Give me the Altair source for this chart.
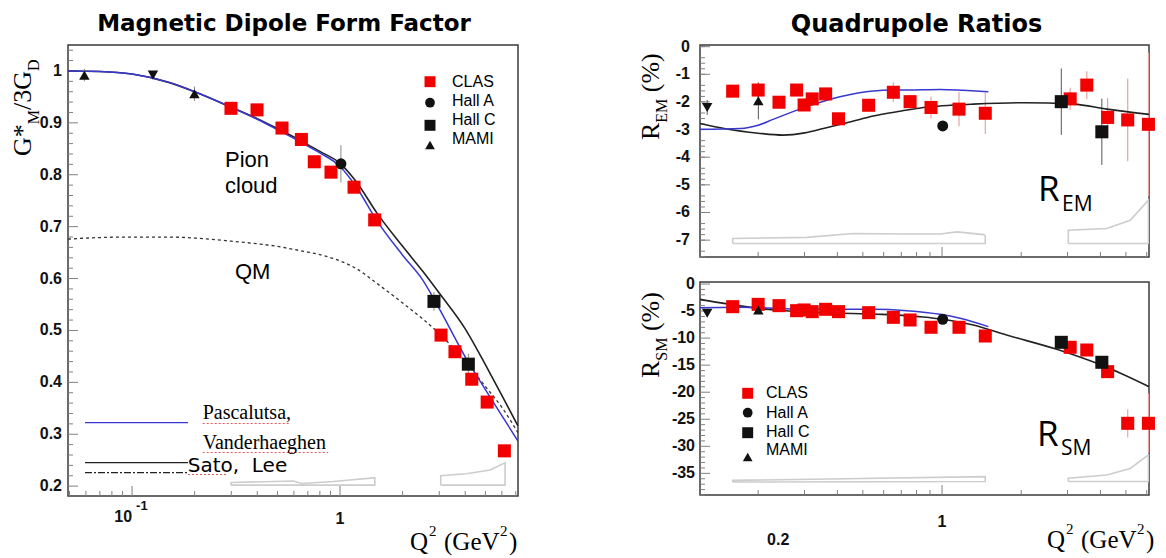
import altair as alt
import pandas as pd
import numpy as np

SANS = "Liberation Sans"
SERIF = "Liberation Serif"
HEAD = "DejaVu Sans"
BIG = "Open Sans"
RED = "#f20000"
BLUE = "#3838d0"
BLACK = "#111111"
TICK = "#808080"
BAND = "#cdcdcd"
PINK = "#e6a3a3"
GREY = "#8a8a8a"

# ---------------- Magnetic dipole form factor (left) ----------------
gm_clas_q2 = [0.299, 0.399, 0.526, 0.652, 0.752, 0.905, 1.168, 1.468, 3.06, 3.57, 4.30, 5.10, 6.17]
gm_clas_v = [0.928, 0.925, 0.890, 0.868, 0.825, 0.805, 0.776, 0.713, 0.491, 0.459, 0.406, 0.362, 0.268]
gm_halla_q2 = [1.01]
gm_halla_v = [0.821]
gm_halla_e = [0.036]
gm_hallc_q2 = [2.83, 4.14]
gm_hallc_v = [0.556, 0.435]
gm_hallc_e = [0.018, 0.02]
gm_mami_q2 = [0.059, 0.1995]
gm_mami_v = [0.992, 0.956]
gm_mami_e = [0.012, 0.014]
gm_mamid_q2 = [0.126]
gm_mamid_v = [0.992]
gm_mamid_e = [0.006]

gm_curve_q2 = [0.0492, 0.07, 0.1, 0.15, 0.2, 0.3, 0.4, 0.5, 0.6, 0.7, 0.8, 1.0, 1.2, 1.5, 2.0, 2.5, 3.0, 4.0, 5.0, 6.0, 7.17]
gm_sato_lee = [1.000, 0.999, 0.994, 0.978, 0.960, 0.930, 0.908, 0.889, 0.873, 0.858, 0.845, 0.822, 0.786, 0.727, 0.662, 0.614, 0.572, 0.503, 0.434, 0.375, 0.316]
gm_pasc_vdh = [1.000, 0.999, 0.994, 0.978, 0.960, 0.930, 0.907, 0.887, 0.870, 0.855, 0.842, 0.816, 0.776, 0.712, 0.645, 0.597, 0.542, 0.449, 0.386, 0.336, 0.287]
gm_qm = [0.676, 0.679, 0.680, 0.680, 0.678, 0.672, 0.667, 0.662, 0.656, 0.651, 0.646, 0.634, 0.619, 0.591, 0.553, 0.522, 0.494, 0.440, 0.392, 0.352, 0.303]

gm_band1_q2 = [0.299, 0.299, 0.597, 0.654, 0.929, 1.446, 1.47, 1.47, 0.299]
gm_band1_v = [0.202, 0.207, 0.210, 0.205, 0.209, 0.216, 0.216, 0.202, 0.202]
gm_band2_q2 = [3.05, 3.05, 4.06, 5.27, 6.22, 6.22, 3.05]
gm_band2_v = [0.202, 0.220, 0.224, 0.231, 0.245, 0.202, 0.202]

gm_y_major = [0.2, 0.3, 0.4, 0.5, 0.6, 0.7, 0.8, 0.9, 1.0]
gm_y_labels = ["0.2", "0.3", "0.4", "0.5", "0.6", "0.7", "0.8", "0.9", "1"]
gm_y_minor = [round(0.2 + 0.02 * i, 2) for i in range(43) if i % 5 != 0]
gm_x_major = [0.1, 1.0]
gm_x_minor = [0.05, 0.06, 0.07, 0.08, 0.09, 0.2, 0.3, 0.4, 0.5, 0.6, 0.7, 0.8, 0.9, 2, 3, 4, 5, 6, 7]

# ---------------- Quadrupole ratios (right) ----------------
clas_q2 = [0.160, 0.200, 0.240, 0.280, 0.299, 0.321, 0.361, 0.404, 0.526, 0.653, 0.756, 0.908, 1.16, 1.46, 3.07, 3.55, 4.26, 5.08, 6.09]
rem_clas = [-1.61, -1.57, -2.01, -1.57, -2.11, -1.89, -1.71, -2.61, -2.12, -1.65, -1.99, -2.20, -2.26, -2.41, -1.89, -1.39, -2.56, -2.65, -2.81]
rem_clas_e = [0.15, 0.25, 0.15, 0.15, 0.15, 0.15, 0.15, 0.2, 0.2, 0.35, 0.25, 0.4, 0.62, 0.75, 0.4, 0.5, 0.7, 1.5, 2.6]
rsm_clas = [-4.19, -3.76, -4.0, -4.93, -4.8, -5.11, -4.68, -5.11, -5.30, -6.16, -6.65, -8.0, -8.0, -9.61, -11.7, -12.2, -16.2, -25.75, -25.75]
rsm_clas_e = [0.4, 0.4, 0.4, 0.4, 0.4, 0.4, 0.4, 0.4, 0.5, 0.5, 0.6, 0.6, 0.7, 0.8, 0.8, 0.9, 1.0, 2.6, 5.5]
halla_q2 = [1.006]
rem_halla = [-2.87]
rsm_halla = [-6.53]
hallc_q2 = [2.84, 4.05]
rem_hallc = [-1.99, -3.08]
rem_hallc_e = [1.2, 1.2]
rsm_hallc = [-10.78, -14.47]
mami_q2 = [0.2003]
rem_mami = [-1.96]
rem_mami_e = [0.67]
rsm_mami = [-4.8]
mamid_q2 = [0.128]
rem_mamid = [-2.20]
rem_mamid_e = [0.27]
rsm_mamid = [-5.42]

rem_pv_q2 = [0.1202, 0.171, 0.2, 0.228, 0.306, 0.409, 0.548, 0.65, 0.734, 0.983, 1.2, 1.50]
rem_pv = [-2.99, -2.96, -2.84, -2.63, -2.17, -1.81, -1.60, -1.57, -1.57, -1.55, -1.58, -1.63]
rem_sl_q2 = [0.1202, 0.15, 0.2, 0.249, 0.3, 0.354, 0.45, 0.548, 0.7, 0.849, 1.0, 1.315, 2.04, 3.16, 4.23, 6.12]
rem_sl = [-2.78, -2.97, -3.13, -3.20, -3.12, -2.96, -2.72, -2.51, -2.33, -2.20, -2.14, -2.08, -2.03, -2.08, -2.26, -2.45]
rsm_pv_q2 = [0.1202, 0.171, 0.306, 0.548, 0.734, 0.983, 1.17, 1.50]
rsm_pv = [-4.38, -4.31, -4.68, -4.68, -4.93, -5.6, -6.34, -7.88]
rsm_sl_q2 = [0.1202, 0.14, 0.171, 0.22, 0.306, 0.548, 0.849, 1.0, 1.315, 1.76, 2.73, 4.23, 6.12]
rsm_sl = [-2.83, -3.4, -4.05, -4.7, -5.2, -5.55, -6.1, -6.5, -7.58, -9.43, -12.08, -15.4, -18.98]

rem_band1_q2 = [0.160, 0.160, 0.306, 0.460, 0.734, 0.983, 1.14, 1.44, 1.46, 1.46, 0.160]
rem_band1_v = [-7.12, -6.94, -6.90, -6.76, -6.78, -6.78, -6.70, -6.80, -6.85, -7.12, -7.12]
rem_band2_q2 = [3.02, 3.02, 4.23, 5.19, 6.09, 6.09, 3.02]
rem_band2_v = [-7.12, -6.64, -6.58, -6.28, -5.55, -7.12, -7.12]
rsm_band1_q2 = [0.160, 0.160, 1.46, 1.46, 0.160]
rsm_band1_v = [-36.6, -36.3, -35.6, -36.5, -36.6]
rsm_band2_q2 = [3.02, 3.02, 4.23, 5.19, 6.09, 6.09, 3.02]
rsm_band2_v = [-36.5, -35.9, -35.3, -34.1, -31.6, -36.5, -36.5]

rem_y_major = [0, -1, -2, -3, -4, -5, -6, -7]
rem_y_labels = ["0", "-1", "-2", "-3", "-4", "-5", "-6", "-7"]
rem_y_minor = [round(-7.6 + 0.2 * i, 1) for i in range(39) if (i % 5) != 2]
rsm_y_major = [0, -5, -10, -15, -20, -25, -30, -35]
rsm_y_labels = ["0", "-5", "-10", "-15", "-20", "-25", "-30", "-35"]
rsm_y_minor = [v for v in range(-39, 1) if v % 5 != 0]
r_x_major = [1.0]
r_x_minor = [0.2, 0.3, 0.4, 0.5, 0.6, 0.7, 0.8, 0.9, 2, 3, 4, 5, 6]

legend_names = ["CLAS", "Hall A", "Hall C", "MAMI"]
legend_shapes = ["square", "circle", "square", "triangle-up"]
legend_colors = [RED, BLACK, BLACK, BLACK]

# ---------------- geometry / scales ----------------
LW, LH = 450, 451
RW, RH1, RH2 = 449, 212, 213
LX = alt.Scale(type="log", domain=[0.0492, 7.175], nice=False)
LY = alt.Scale(domain=[0.181, 1.050], nice=False, zero=False)
RX = alt.Scale(type="log", domain=[0.1202, 6.12], nice=False)
EMY = alt.Scale(domain=[-7.61, 0.06], nice=False, zero=False)
SMY = alt.Scale(domain=[-39.0, 0.37], nice=False, zero=False)

DUMMY = pd.DataFrame({"k": [0]})
NBSP = "\u00a0"


def enc(xs, ys, xf="q2", yf="v"):
    return dict(x=alt.X(f"{xf}:Q", scale=xs, axis=None), y=alt.Y(f"{yf}:Q", scale=ys, axis=None))


def points(q2, v, xs, ys, shape, color, size):
    df = pd.DataFrame({"q2": q2, "v": v})
    return alt.Chart(df).mark_point(shape=shape, filled=True, color=color, size=size,
                                    opacity=1, strokeWidth=0).encode(**enc(xs, ys))


def errbars(q2, v, err, xs, ys, color, w=1.0):
    df = pd.DataFrame({"q2": q2, "lo": np.array(v) - np.array(err), "hi": np.array(v) + np.array(err)})
    return alt.Chart(df).mark_rule(color=color, strokeWidth=w).encode(
        x=alt.X("q2:Q", scale=xs, axis=None), y=alt.Y("lo:Q", scale=ys, axis=None), y2="hi:Q")


def curve(q2, v, xs, ys, color, w=1.6, dash=None, smooth=True):
    df = pd.DataFrame({"q2": q2, "v": v, "o": list(range(len(q2)))})
    kw = dict(color=color, strokeWidth=w, clip=True)
    if smooth:
        kw["interpolate"] = "monotone"
    if dash:
        kw["strokeDash"] = dash
    return alt.Chart(df).mark_line(**kw).encode(**enc(xs, ys), order="o:O")


def band(q2, v, xs, ys):
    return curve(q2, v, xs, ys, BAND, 1.6, smooth=False)


def yticks(vals, ys, length):
    df = pd.DataFrame({"t": vals})
    return alt.Chart(df).mark_rule(color=TICK, strokeWidth=1).encode(
        y=alt.Y("t:Q", scale=ys, axis=None), x=alt.value(0), x2=alt.value(length))


def xticks(vals, xs, h, length):
    df = pd.DataFrame({"t": vals})
    return alt.Chart(df).mark_rule(color=TICK, strokeWidth=1).encode(
        x=alt.X("t:Q", scale=xs, axis=None), y=alt.value(h), y2=alt.value(h - length))


def ylabels(vals, labs, ys, dx):
    df = pd.DataFrame({"t": vals, "lab": labs})
    return alt.Chart(df).mark_text(align="right", baseline="middle", font=SANS, fontWeight="bold",
                                   fontSize=16, dx=dx, color=BLACK).encode(
        y=alt.Y("t:Q", scale=ys, axis=None), x=alt.value(0), text="lab:N")


def xlabel(val, lab, xs, y, size=16, align="center", dx=0):
    df = pd.DataFrame({"t": [val], "lab": [lab]})
    return alt.Chart(df).mark_text(align=align, baseline="middle", font=SANS, fontWeight="bold",
                                   fontSize=size, dx=dx, color=BLACK).encode(
        x=alt.X("t:Q", scale=xs, axis=None), y=alt.value(y), text="lab:N")


def txt(s, x, y, size, font=SANS, weight="normal", align="left", baseline="alphabetic", angle=0, color="#000"):
    kw = dict(text=s, font=font, fontSize=size, fontWeight=weight, align=align, baseline=baseline, color=color)
    if angle:
        kw["angle"] = angle
    return alt.Chart(DUMMY).mark_text(**kw).encode(x=alt.value(x), y=alt.value(y))


def hline(x1, x2, y, color, w=1.2, dash=None, opacity=1.0):
    kw = dict(color=color, strokeWidth=w, opacity=opacity)
    if dash:
        kw["strokeDash"] = dash
    return alt.Chart(DUMMY).mark_rule(**kw).encode(x=alt.value(x1), x2=alt.value(x2), y=alt.value(y))


def sym(shape, color, size, x, y):
    return alt.Chart(DUMMY).mark_point(shape=shape, filled=True, color=color, size=size, opacity=1,
                                       strokeWidth=0).encode(x=alt.value(x), y=alt.value(y))


def legend(xm, xt, ym, yt, size=16):
    out = []
    for n, s, c, a, b in zip(legend_names, legend_shapes, legend_colors, ym, yt):
        out.append(sym(s, c, 120 if s == "square" else 95, xm, a))
        out.append(txt(n, xt, b, size, baseline="middle"))
    return out


def qtitle(x0, yb):
    return [txt("Q", x0, yb, 25, font=SERIF), txt("2", x0 + 19, yb - 14, 15, font=SERIF),
            txt("(GeV", x0 + 34, yb, 25, font=SERIF), txt("2", x0 + 90, yb - 14, 15, font=SERIF),
            txt(")", x0 + 99, yb, 25, font=SERIF)]


# ---------------- left panel ----------------
left_layers = [
    band(gm_band1_q2, gm_band1_v, LX, LY),
    band(gm_band2_q2, gm_band2_v, LX, LY),
    yticks(gm_y_minor, LY, 5), yticks(gm_y_major, LY, 10),
    xticks(gm_x_minor, LX, LH, 5), xticks(gm_x_major, LX, LH, 10),
    curve(gm_curve_q2, gm_qm, LX, LY, "#333333", 1.3, [3, 3]),
    curve(gm_curve_q2, gm_sato_lee, LX, LY, "#222222", 1.6),
    curve(gm_curve_q2, gm_pasc_vdh, LX, LY, BLUE, 1.5),
    errbars(gm_halla_q2, gm_halla_v, gm_halla_e, LX, LY, GREY),
    errbars(gm_hallc_q2, gm_hallc_v, gm_hallc_e, LX, LY, GREY),
    errbars(gm_mami_q2, gm_mami_v, gm_mami_e, LX, LY, GREY),
    errbars(gm_mamid_q2, gm_mamid_v, gm_mamid_e, LX, LY, GREY),
    points(gm_clas_q2, gm_clas_v, LX, LY, "square", RED, 170),
    points(gm_halla_q2, gm_halla_v, LX, LY, "circle", BLACK, 120),
    points(gm_hallc_q2, gm_hallc_v, LX, LY, "square", BLACK, 170),
    points(gm_mami_q2, gm_mami_v, LX, LY, "triangle-up", BLACK, 110),
    points(gm_mamid_q2, gm_mamid_v, LX, LY, "triangle-down", BLACK, 110),
    ylabels(gm_y_major, gm_y_labels, LY, -6),
    xlabel(0.1, "10", LX, 472, align="right"),
    xlabel(0.1, "-1", LX, 461, size=13, align="left", dx=4),
    xlabel(1.0, "1", LX, 474),
    txt("Magnetic Dipole Form Factor", 216, -14, 23, font=HEAD, weight="bold", align="center"),
    txt("Pion", 157, 122, 22), txt("cloud", 157, 147.7, 22), txt("QM", 167, 234.3, 22),
    hline(17, 120, 377.7, BLUE, 1.3),
    hline(17, 120, 417.7, "#222222", 1.3),
    hline(17, 120, 427.7, "#222222", 1.2, [7, 2, 2, 2]),
    hline(134.7, 222, 378.5, "#e03030", 1.0, [2, 2], 0.8),
    hline(134.7, 260, 407.5, "#e03030", 1.0, [2, 2], 0.8),
    hline(120, 160, 429.5, "#e03030", 1.0, [2, 2], 0.8),
    txt("Pascalutsa,", 134.7, 374.3, 20, font=SERIF),
    txt("Vanderhaeghen", 134.7, 404.3, 20, font=SERIF),
    txt("Sato," + NBSP + NBSP + "Lee", 119.7, 427, 20, font=HEAD),
    txt("G*", -37.5, 111, 26, font=SERIF, angle=270),
    txt("M", -29, 79.2, 16, font=SERIF, angle=270),
    txt("/3G", -37.5, 65, 26, font=SERIF, angle=270),
    txt("D", -29, 26, 16, font=SERIF, angle=270),
] + legend(362, 384, [36.7, 57.7, 80.3, 100], [36.7, 56, 75.3, 94.3]) + qtitle(342, 505)

left = alt.layer(*left_layers).properties(width=LW, height=LH)

# ---------------- R_EM panel ----------------
rem_layers = [
    band(rem_band1_q2, rem_band1_v, RX, EMY),
    band(rem_band2_q2, rem_band2_v, RX, EMY),
    yticks(rem_y_minor, EMY, 5), yticks(rem_y_major, EMY, 10),
    xticks(r_x_minor, RX, RH1, 5), xticks(r_x_major, RX, RH1, 10),
    errbars(clas_q2, rem_clas, rem_clas_e, RX, EMY, PINK, 1.2),
    errbars(hallc_q2, rem_hallc, rem_hallc_e, RX, EMY, "#555555", 1.0),
    errbars(mami_q2, rem_mami, rem_mami_e, RX, EMY, "#555555", 1.0),
    errbars(mamid_q2, rem_mamid, rem_mamid_e, RX, EMY, "#555555", 1.0),
    curve(rem_sl_q2, rem_sl, RX, EMY, "#222222", 1.6),
    curve(rem_pv_q2, rem_pv, RX, EMY, BLUE, 1.5),
    points(clas_q2, rem_clas, RX, EMY, "square", RED, 170),
    points(halla_q2, rem_halla, RX, EMY, "circle", BLACK, 120),
    points(hallc_q2, rem_hallc, RX, EMY, "square", BLACK, 170),
    points(mami_q2, rem_mami, RX, EMY, "triangle-up", BLACK, 110),
    points(mamid_q2, rem_mamid, RX, EMY, "triangle-down", BLACK, 110),
    ylabels(rem_y_major, rem_y_labels, EMY, -10),
    txt("Quadrupole Ratios", 216.5, -13, 24, font=HEAD, weight="bold", align="center"),
    txt("R", 338, 156, 35, font=BIG), txt("EM", 362, 166, 21, font=BIG),
    txt("R", -41.5, 95, 26, font=SERIF, angle=270),
    txt("EM", -33, 77.7, 16, font=SERIF, angle=270),
    txt("(%)", -41.5, 47.2, 26, font=SERIF, angle=270),
]
rem = alt.layer(*rem_layers).properties(width=RW, height=RH1)

# ---------------- R_SM panel ----------------
rsm_layers = [
    band(rsm_band1_q2, rsm_band1_v, RX, SMY),
    band(rsm_band2_q2, rsm_band2_v, RX, SMY),
    yticks(rsm_y_minor, SMY, 5), yticks(rsm_y_major, SMY, 10),
    xticks(r_x_minor, RX, RH2, 5), xticks(r_x_major, RX, RH2, 10),
    errbars(clas_q2, rsm_clas, rsm_clas_e, RX, SMY, PINK, 1.2),
    curve(rsm_sl_q2, rsm_sl, RX, SMY, "#222222", 1.6),
    curve(rsm_pv_q2, rsm_pv, RX, SMY, BLUE, 1.5),
    points(clas_q2, rsm_clas, RX, SMY, "square", RED, 170),
    points(halla_q2, rsm_halla, RX, SMY, "circle", BLACK, 120),
    points(hallc_q2, rsm_hallc, RX, SMY, "square", BLACK, 170),
    points(mami_q2, rsm_mami, RX, SMY, "triangle-up", BLACK, 110),
    points(mamid_q2, rsm_mamid, RX, SMY, "triangle-down", BLACK, 110),
    ylabels(rsm_y_major, rsm_y_labels, SMY, -5),
    xlabel(1.0, "1", RX, 239.7),
    xlabel(0.2, "0.2", RX, 258, dx=20),
    txt("R", 337, 164, 35, font=BIG), txt("SM", 361, 173, 21, font=BIG),
    txt("R", -41.5, 96, 26, font=SERIF, angle=270),
    txt("SM", -33, 78.7, 16, font=SERIF, angle=270),
    txt("(%)", -41.5, 49.1, 26, font=SERIF, angle=270),
] + legend(47.7, 66, [111.3, 130.7, 150.7, 175], [111.3, 130.7, 149.7, 168]) + qtitle(347, 266)
rsm = alt.layer(*rsm_layers).properties(width=RW, height=RH2)

right = alt.vconcat(rem, rsm, spacing=25, bounds="flush")
chart = alt.hconcat(left, right, spacing=182, bounds="flush").properties(
    padding={"left": 0, "top": 4, "right": 2, "bottom": 0}
).configure_view(stroke="#3a3a3a", strokeWidth=1.5)

chart.save("out.html", embed_options={"renderer": "svg", "actions": False})
